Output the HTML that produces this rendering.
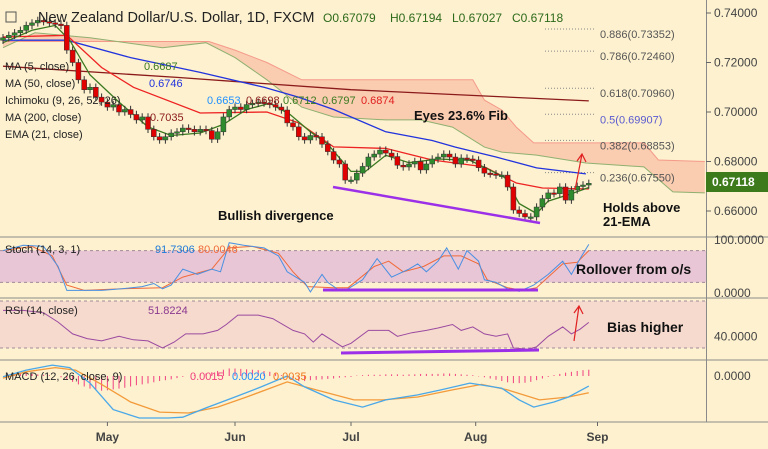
<!DOCTYPE html>
<html><head><meta charset="utf-8"><style>
body{margin:0;background:#fdf1cf;width:768px;height:449px;overflow:hidden;font-family:"Liberation Sans",sans-serif}
svg{display:block}
</style></head><body>
<svg id="c" width="768" height="449" font-family="Liberation Sans, sans-serif">
<rect width="768" height="449" fill="#fdf1cf"/>
</svg>
<script>
// ---------- DATA ----------
const closes=[0.730,0.731,0.732,0.733,0.735,0.736,0.737,0.7365,0.736,0.7355,0.735,0.725,0.720,0.713,0.709,0.710,0.706,0.704,0.702,0.703,0.700,0.701,0.699,0.6968,0.698,0.693,0.690,0.6887,0.690,0.6915,0.692,0.6935,0.693,0.692,0.693,0.6925,0.689,0.692,0.698,0.701,0.702,0.701,0.703,0.7035,0.704,0.7036,0.703,0.702,0.7008,0.6956,0.694,0.690,0.6887,0.6905,0.690,0.687,0.684,0.6806,0.679,0.6725,0.6725,0.6753,0.678,0.6818,0.683,0.6846,0.6834,0.682,0.6785,0.6778,0.679,0.680,0.6766,0.679,0.681,0.6818,0.683,0.6818,0.679,0.6814,0.681,0.6806,0.6775,0.6753,0.675,0.6745,0.6745,0.6697,0.6604,0.659,0.6576,0.6576,0.6616,0.665,0.6673,0.667,0.6697,0.6644,0.6685,0.670,0.6705,0.67118];
const firstOpen=0.729;
const ma5=[[0,0.728],[5,0.733],[9,0.735],[11.5,0.729],[15,0.715],[20,0.704],[25,0.694],[29,0.6905],[34,0.6915],[38,0.695],[42,0.701],[46,0.7035],[49.5,0.699],[53,0.692],[56,0.687],[60,0.676],[62.5,0.676],[66,0.6825],[70,0.6795],[75,0.681],[80.5,0.6805],[84,0.6765],[86.5,0.6735],[89,0.663],[92,0.659],[94,0.664],[98,0.667],[101,0.6695]];
const ema21=[[0,0.7303],[11,0.731],[17,0.718],[22.5,0.710],[34,0.6996],[45.5,0.700],[51,0.6956],[57,0.6859],[66,0.6853],[74,0.6806],[83,0.6778],[88.5,0.6713],[93,0.6693],[101,0.6689]];
const ma50=[[0,0.729],[11,0.729],[22,0.722],[34,0.716],[45,0.710],[51,0.706],[57,0.701],[66,0.692],[74,0.6885],[78,0.6858],[85,0.6818],[92,0.6774],[100.5,0.675]];
const ma200=[[0,0.7185],[30,0.714],[60,0.709],[101,0.7045]];
const cloudUp=[[0,0.7285],[35.5,0.7285],[40,0.725],[45.5,0.72],[51.5,0.713],[81,0.713],[83,0.7048],[86,0.7008],[88.5,0.6939],[91.5,0.6875],[110.5,0.6875],[113,0.6806],[121,0.680]];
const cloudLo=[[0,0.726],[5.5,0.732],[15,0.730],[27.5,0.726],[35,0.728],[40,0.722],[45.5,0.713],[51.5,0.702],[57,0.698],[66,0.6968],[72,0.6968],[77.5,0.6939],[83,0.6858],[86,0.6838],[92,0.6826],[100.5,0.6794],[110.5,0.6778],[115.5,0.6677],[121,0.6673]];
const priceTicks=[0.74,0.72,0.70,0.68,0.66];
const fibLevels=[0.73352,0.72460,0.70960,0.69907,0.68853,0.67550];
const fibLabels=["0.886(0.73352)","0.786(0.72460)","0.618(0.70960)","0.5(0.69907)","0.382(0.68853)","0.236(0.67550)"];
const stochK=[[0,80],[3.5,90],[7,88],[9.5,50],[11,5],[14,5],[17,5],[20.5,8],[24,12],[26,18],[27.5,8],[29,15],[31,45],[33.5,35],[36,45],[37.5,40],[39,95],[41.5,90],[45,85],[47.5,70],[49,40],[52,20],[53,2],[55,35],[56,20],[58,5],[59.5,8],[62,25],[64.5,65],[67,30],[70,45],[71.5,55],[73,40],[75,60],[76.5,85],[78.5,45],[80,80],[82,60],[83,25],[85,20],[87,8],[89,3],[91.5,15],[94,35],[96.5,60],[98,35],[99.5,65],[101,91.7]];
const stochD=[[0,80],[5,88],[8.5,70],[11,15],[14,5],[20.5,8],[27.5,10],[31,30],[36,45],[39,85],[43,88],[47.5,75],[50,40],[52.5,12],[57,10],[59.5,10],[64,50],[66.5,60],[69,40],[72.5,50],[76,70],[79,70],[82,55],[83.5,25],[87,10],[89.5,5],[92,10],[96.5,55],[99,58],[101,80]];
const rsi=[[0,62],[3.5,62],[7,60],[9.5,52],[12,42],[14.5,38],[17,36],[20,40],[22.5,37],[25,36],[27.5,30],[29.5,35],[31.5,42],[34.5,42],[37,45],[38.5,50],[40.5,58],[44,58],[46.5,55],[50,45],[52,42],[53.5,35],[55,42],[58.5,31],[60,34],[63,45],[66.5,45],[68,40],[70.5,43],[73,45],[75,47],[77.5,50],[79,45],[81,48],[83,42],[85,40],[87,42],[88,30],[90.5,29],[92,31],[94,40],[96.5,48],[98,42],[99.5,46],[101,51.8]];
const macdLine=[[0,-0.0002],[4,0.0014],[8.5,0.0026],[11.5,0.002],[15,-0.0017],[19,-0.008],[23.5,-0.010],[28.5,-0.010],[31,-0.0098],[35,-0.0076],[40,-0.005],[44.5,-0.0026],[49,0.0],[52,-0.0026],[57,-0.0057],[62,-0.0074],[66,-0.0057],[71.5,-0.0045],[75.5,-0.0033],[80.5,-0.0017],[86,-0.0029],[89,-0.0057],[91.5,-0.0074],[95,-0.0062],[97.5,-0.005],[101,-0.0024]];
const macdSignal=[[0,-0.0005],[4,0.001],[9,0.002],[12.5,0.0014],[17,-0.002],[22,-0.0062],[27,-0.0086],[32,-0.0088],[37,-0.0074],[42,-0.005],[49,-0.0014],[54,-0.0033],[60.5,-0.0057],[65.5,-0.0057],[71.5,-0.005],[77.5,-0.0033],[82.5,-0.002],[87,-0.0033],[92.5,-0.0057],[97.5,-0.005],[101,-0.004]];
const macdHist=[0,0.0003,0.0005,0.0006,0.0006,0.0005,0.0004,0.0003,0.0002,0,-0.0003,-0.0008,-0.0014,-0.002,-0.0025,-0.003,-0.0033,-0.0035,-0.0034,-0.0032,-0.003,-0.0028,-0.0025,-0.0022,-0.002,-0.0018,-0.0015,-0.0012,-0.001,-0.0008,-0.0005,-0.0002,0,0.0002,0.0004,0.0006,0.0009,0.0012,0.0015,0.0018,0.0018,0.0017,0.0016,0.0015,0.0014,0.0012,0.001,0.0006,0.0002,-0.0003,-0.0008,-0.0012,-0.0012,-0.001,-0.0009,-0.0008,-0.0007,-0.0006,-0.0004,-0.0003,-0.0002,0.0001,0.0002,0.0003,0.0003,0.0003,0.0004,0.0004,0.0004,0.0003,0.0004,0.0004,0.0005,0.0005,0.0005,0.0005,0.0006,0.0006,0.0005,0.0004,0.0003,0.0002,-0.0001,-0.0003,-0.0006,-0.0009,-0.0012,-0.0015,-0.0017,-0.0017,-0.0016,-0.0014,-0.001,-0.0006,-0.0002,0.0002,0.0005,0.0008,0.001,0.0012,0.0014,0.0015];
const monthLabels=["May","Jun","Jul","Aug","Sep"];
const monthIdx=[18,40,60,81.5,102.5];

// ---------- AXES ----------
const NS="http://www.w3.org/2000/svg";
const svg=document.getElementById('c');
const xOf=i=>3+i*5.8;
const yP=p=>13+(0.74-p)*2475;
const yS=v=>293-v*0.53;
const yR=v=>348-(v-30)*1.175;
const yM=v=>376-v*4200;
function el(tag,attrs,parent){const e=document.createElementNS(NS,tag);for(const k in attrs)e.setAttribute(k,attrs[k]);(parent||svg).appendChild(e);return e;}
function txt(s,x,y,attrs){const e=el('text',Object.assign({x:x,y:y},attrs));e.textContent=s;return e;}
function pathOf(arr,fy){return arr.map((p,k)=>(k?'L':'M')+xOf(p[0]).toFixed(1)+' '+fy(p[1]).toFixed(1)).join(' ');}

let r=el('rect',{x:0,y:yS(80),width:706,height:yS(20)-yS(80),fill:'#e9c6d6'});

r=el('rect',{x:0,y:yR(70),width:706,height:yR(30)-yR(70),fill:'#f6dacd'});

[[yS(80)],[yS(20)],[yR(70)],[yR(30)]].forEach(a=>{const l=el('line',{x1:0,x2:706,y1:a[0],y2:a[0],stroke:'#a08a9a','stroke-dasharray':'3,3','stroke-width':1});
});

const cl=cloudUp.map(p=>xOf(p[0])+','+yP(p[1])).concat(cloudLo.slice().reverse().map(p=>xOf(p[0])+','+yP(p[1])));
let c=el('polygon',{points:cl.join(' '),fill:'#f9c3a8','fill-opacity':0.8});

c=el('path',{d:pathOf(cloudUp,yP),fill:'none',stroke:'#f59a8a','stroke-width':1});

c=el('path',{d:pathOf(cloudLo,yP),fill:'none',stroke:'#8fb070','stroke-width':1});


fibLevels.forEach((f,k)=>{const y=yP(f);
const l=el('line',{x1:545,x2:596,y1:y,y2:y,stroke:'#888','stroke-dasharray':'1,2'});

const t=txt(fibLabels[k],600,y+9,{'font-size':11,fill:f===0.69907?'#5a5ad0':'#555'});
});

[[ma200,'#8b1a1a','ma200-line'],[ma50,'#2233dd','ma50-line'],[ema21,'#ee2222','ema21-line'],[ma5,'#3a7a20','ma5-line']].forEach(a=>{
const p=el('path',{d:pathOf(a[0],yP),fill:'none',stroke:a[1],'stroke-width':1.3});
});

let prev=firstOpen;
closes.forEach((cv,i)=>{const o=prev;prev=cv;const up=cv>=o;const x=xOf(i);
const hi=Math.max(o,cv)+0.0015,lo=Math.min(o,cv)-0.0015;
const g=el('g',{});

el('line',{x1:x,x2:x,y1:yP(hi),y2:yP(lo),stroke:'#333','stroke-width':1},g);
const top=yP(Math.max(o,cv)),h=Math.max(1.5,yP(Math.min(o,cv))-top);
el('rect',{x:x-2.5,y:top,width:5,height:h,fill:up?'#2e8b2e':'#e00000',stroke:'#333','stroke-width':0.5},g);});

c=el('path',{d:pathOf(stochD,yS),fill:'none',stroke:'#f06a3a','stroke-width':1});

c=el('path',{d:pathOf(stochK,yS),fill:'none',stroke:'#4a90e2','stroke-width':1});

c=el('path',{d:pathOf(rsi,yR),fill:'none',stroke:'#9a4aa0','stroke-width':1});

macdHist.forEach((v,i)=>{const b=el('line',{x1:xOf(i),x2:xOf(i),y1:yM(0),y2:yM(v),stroke:'#f04080','stroke-width':1});
});
c=el('path',{d:pathOf(macdSignal,yM),fill:'none',stroke:'#f39a3a','stroke-width':1.3});

c=el('path',{d:pathOf(macdLine,yM),fill:'none',stroke:'#4aa8e8','stroke-width':1.3});


[237,298,360,422].forEach(y=>{const l=el('line',{x1:0,x2:768,y1:y,y2:y,stroke:'#8a8a8a','stroke-width':1});
});
c=el('line',{x1:706.5,x2:706.5,y1:0,y2:422,stroke:'#8a8a8a'});

priceTicks.forEach(p=>{const y=yP(p);
const l=el('line',{x1:706,x2:711,y1:y,y2:y,stroke:'#666'});
const t=txt(p.toFixed(5),714,y+4,{'font-size':12,fill:'#444'});});
[[yS(100),'100.0000'],[yS(0),'0.0000'],[yR(40),'40.0000'],[yM(0),'0.0000']].forEach(a=>{
const t=txt(a[1],714,a[0]+4,{'font-size':12,fill:'#444'});});
c=el('rect',{x:706,y:172,width:62,height:20,fill:'#3d7a1c'});
c=txt('0.67118',712,186,{'font-size':12,'font-weight':'bold',fill:'#fff'});
monthLabels.forEach((m,k)=>{const x=xOf(monthIdx[k]);
const l=el('line',{x1:x,x2:x,y1:422,y2:426,stroke:'#666'});
const t=txt(m,x,441,{'font-size':12,'font-weight':'bold',fill:'#444','text-anchor':'middle'});});

[[[333,187,540,223],'divergence-line-price',2.5],[[323,290,538,290],'divergence-line-stoch',3],[[341,353,539,350],'divergence-line-rsi',3]].forEach(a=>{
const l=el('line',{x1:a[0][0],y1:a[0][1],x2:a[0][2],y2:a[0][3],stroke:'#9b30e8','stroke-width':a[2]});
});
[[[575,190,582,154],'arrow-price'],[[574,341,579,306],'arrow-rsi']].forEach(a=>{const[x1,y1,x2,y2]=a[0];
const g=el('g',{stroke:'#e02020','stroke-width':1.2,fill:'none'});
el('line',{x1,y1,x2,y2},g);el('polyline',{points:(x2-5)+','+(y2+7)+' '+x2+','+y2+' '+(x2+4)+','+(y2+8)},g);});
[['Bullish divergence',218,220,'note-bullish-divergence',13],['Eyes 23.6% Fib',414,120,'note-fib',13],['Holds above',603,212,'note-holds',13],['21-EMA',603,226,'note-ema',13],['Rollover from o/s',576,274,'note-rollover',14],['Bias higher',607,332,'note-bias',14]].forEach(a=>{
const t=txt(a[0],a[1],a[2],{'font-size':a[4],'font-weight':'bold',fill:'#111'});});

c=txt('New Zealand Dollar/U.S. Dollar, 1D, FXCM',38,22,{'font-size':14.5,fill:'#222'});
c=el('rect',{x:6,y:12,width:10,height:10,fill:'none',stroke:'#555'});
const ohlc=[['O0.67079',323],['H0.67194',390],['L0.67027',452],['C0.67118',512]];
ohlc.forEach(a=>{const t=txt(a[0],a[1],22,{'font-size':12,fill:'#2d6a1a'});});
[['MA (5, close)',66,'0.6687',144,'#3a7a20'],['MA (50, close)',83,'0.6746',149,'#2233dd'],['Ichimoku (9, 26, 52, 26)',100,'',0,''],['MA (200, close)',117,'0.7035',150,'#8b1a1a'],['EMA (21, close)',134,'',0,'']].forEach(a=>{
const t=txt(a[0],5,a[1]+4,{'font-size':11,fill:'#222'});
if(a[2]){const v=txt(a[2],a[3],a[1]+4,{'font-size':11,fill:a[4]});}});
[['0.6653',207,'#1e90ff'],['0.6698',246,'#8b1a1a'],['0.6712',283,'#3a7a20'],['0.6797',322,'#3a7a20'],['0.6874',361,'#e02020']].forEach(a=>{
const t=txt(a[0],a[1],104,{'font-size':11,fill:a[2]});});
[['Stoch (14, 3, 1)',5,253,'#222'],['91.7306',155,253,'#1e7ad8'],['80.0046',198,253,'#f06a3a'],['RSI (14, close)',5,314,'#222'],['51.8224',148,314,'#8a3a90'],['MACD (12, 26, close, 9)',5,380,'#222'],['0.0015',190,380,'#f04080'],['0.0020',232,380,'#1e90ff'],['0.0035',273,380,'#f07a20']].forEach(a=>{
const t=txt(a[0],a[1],a[2],{'font-size':11,fill:a[3]});});
</script>
</body></html>
